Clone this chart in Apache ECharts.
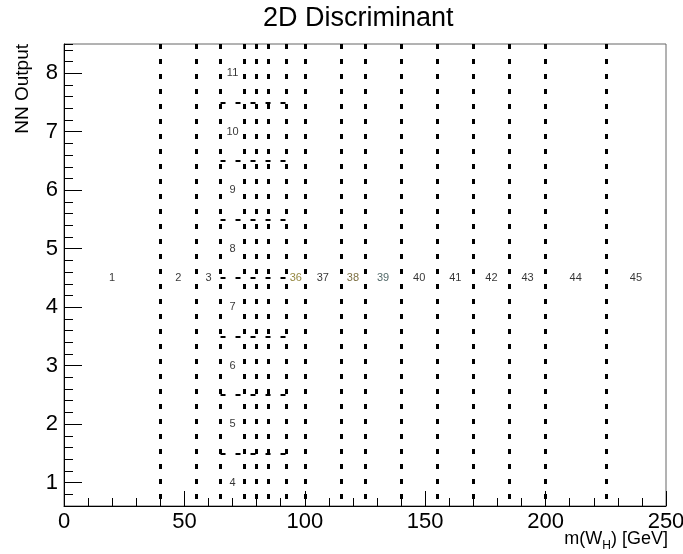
<!DOCTYPE html>
<html>
<head>
<meta charset="utf-8">
<script src="https://cdn.jsdelivr.net/npm/echarts@6/dist/echarts.min.js"></script>
<style>
html,body{margin:0;padding:0;background:#fff;}
#c{width:683px;height:554px;}
</style>
</head>
<body>
<div id="c"></div>
<script>
// ---- data ----
const xRange = [0, 250];
const yRange = [0.6, 8.5];
const xTicks = [0, 50, 100, 150, 200, 250];
const yTicks = [1, 2, 3, 4, 5, 6, 7, 8];
const verticalEdges = [40, 55, 65, 75, 80, 85, 92.5, 100, 115, 125, 140, 155, 170, 185, 200, 225];
const horizontalEdges = [1.5, 2.5, 3.5, 4.5, 5.5, 6.5, 7.5];
const horizontalSpan = [65, 92.5];
const rowLabels = ['1', '2', '3', '36', '37', '38', '39', '40', '41', '42', '43', '44', '45'];
const rowX = [20, 47.5, 60, 96.25, 107.5, 120, 132.5, 147.5, 162.5, 177.5, 192.5, 212.5, 237.5];
const rowY = 4.5;
const colLabels = ['4', '5', '6', '7', '8', '9', '10', '11'];
const colX = 70;
const colY = [1, 2, 3, 4, 5, 6, 7, 8];
const labelColors = { '36': '#7a6a12', '38': '#5a4a10', '39': '#1d3b3b' };

const FONT = '"Liberation Sans", Arial, sans-serif';
const dashStyle = { color: '#000', width: 3, opacity: 1, type: [5, 10] };

const lineData = [];
verticalEdges.forEach(x => lineData.push({ coords: [[x, yRange[1]], [x, yRange[0]]] }));
horizontalEdges.forEach(y => lineData.push({
  coords: [[horizontalSpan[0], y], [horizontalSpan[1], y]],
  lineStyle: { width: 2 }
}));

const textData = [];
rowLabels.forEach((t, i) => textData.push({ name: t, value: [rowX[i], rowY] }));
colLabels.forEach((t, i) => textData.push({ name: t, value: [colX, colY[i]] }));
textData.forEach(d => {
  d.label = { color: labelColors[d.name] || '#000' };
});

const chart = echarts.init(document.getElementById('c'), null, { renderer: 'canvas' });
chart.setOption({
  animation: false,
  backgroundColor: '#fff',
  textStyle: { fontFamily: FONT },
  title: {
    text: '2D Discriminant',
    left: 258,
    top: 0,
    textStyle: { fontFamily: FONT, fontSize: 27, fontWeight: 'normal', color: '#000' }
  },
  grid: {
    left: 64, right: 17, top: 44, bottom: 48,
    containLabel: false,
    outerBoundsMode: 'none',
    show: true, borderColor: '#666', borderWidth: 1, backgroundColor: 'transparent'
  },
  xAxis: {
    type: 'value',
    min: xRange[0], max: xRange[1], interval: 50,
    axisLine: { show: true, onZero: false, lineStyle: { color: '#000', width: 1 } },
    axisTick: { show: true, inside: true, length: 15, lineStyle: { color: '#000' } },
    minorTick: { show: true, splitNumber: 5, length: 8, lineStyle: { color: '#000' } },
    axisLabel: { fontSize: 22, color: '#000', margin: 5, fontFamily: FONT,
      customValues: xTicks },
    splitLine: { show: false },
    name: '{a|m(W}{s|H}{a|) [GeV]}',
    nameLocation: 'end',
    nameGap: 2,
    nameMoveOverlap: false,
    nameTextStyle: {
      align: 'right', verticalAlign: 'top', padding: [20, 0, 0, 0],
      rich: {
        a: { fontSize: 18, fontFamily: FONT, color: '#000' },
        s: { fontSize: 12, fontFamily: FONT, color: '#000', padding: [14, 0, 0, 0] }
      }
    }
  },
  yAxis: [
    {
      type: 'value',
      min: yRange[0], max: yRange[1], interval: 0.2,
      axisLine: { show: true, onZero: false, lineStyle: { color: '#000', width: 1 } },
      axisTick: { show: true, inside: true, length: 9, lineStyle: { color: '#000' } },
      axisLabel: { show: false },
      splitLine: { show: false },
      name: 'NN Output',
      nameLocation: 'end',
      nameRotate: 90,
      nameGap: 0,
      nameMoveOverlap: false,
      nameTextStyle: {
        fontSize: 19, fontFamily: FONT, color: '#000',
        align: 'right', verticalAlign: 'bottom', padding: [0, 0, 32, 0]
      }
    },
    {
      type: 'value',
      position: 'left',
      min: yRange[0], max: yRange[1],
      axisLine: { show: false },
      axisTick: { show: true, inside: true, length: 18, customValues: yTicks, lineStyle: { color: '#000' } },
      axisLabel: { show: true, fontSize: 22, color: '#000', margin: 6, fontFamily: FONT, customValues: yTicks },
      splitLine: { show: false }
    }
  ],
  series: [
    {
      type: 'lines',
      coordinateSystem: 'cartesian2d',
      silent: true,
      lineStyle: dashStyle,
      data: lineData,
      z: 3
    },
    {
      type: 'scatter',
      symbolSize: 0,
      silent: true,
      data: textData,
      label: {
        show: true,
        position: 'inside',
        formatter: p => p.name,
        fontSize: 11,
        fontFamily: FONT,
        color: '#000'
      },
      z: 4
    }
  ]
});
</script>
</body>
</html>
